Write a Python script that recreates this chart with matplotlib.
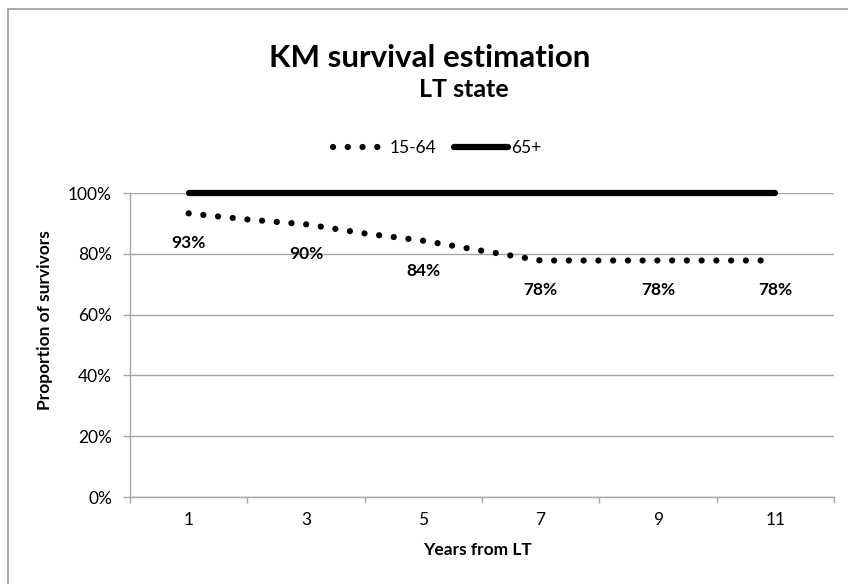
import matplotlib.pyplot as plt
from matplotlib.lines import Line2D
from matplotlib.ticker import FixedLocator, PercentFormatter

plt.rcParams['font.family'] = ['Lato', 'DejaVu Sans']

# Kaplan-Meier survival by age group, years 1..11 after LT
years = [1, 2, 3, 4, 5, 6, 7, 8, 9, 10, 11]
surv_15_64 = [0.933, 0.913, 0.897, 0.867, 0.843, 0.810, 0.778, 0.778, 0.778, 0.778, 0.778]
surv_65_plus = [1.0, 1.0, 1.0, 1.0, 1.0, 1.0, 1.0, 1.0, 1.0, 1.0, 1.0]
labelled_years = [1, 3, 5, 7, 9, 11]
y_ticks = [0.0, 0.2, 0.4, 0.6, 0.8, 1.0]

grey = '#a6a6a6'

fig = plt.figure(figsize=(8.48, 5.84), dpi=100)
ax = fig.add_axes([130 / 848, 87 / 584, 704 / 848, 304 / 584])

# chart area border (left and top edges)
fig.add_artist(Line2D([8 / 848, 8 / 848], [0, 1 - 9 / 584], transform=fig.transFigure,
                      color='#9a9a9a', lw=1.2))
fig.add_artist(Line2D([8 / 848, 1], [1 - 9 / 584, 1 - 9 / 584], transform=fig.transFigure,
                      color='#9a9a9a', lw=1.2))

l1, = ax.plot(years, surv_15_64, color='black', lw=4.5, linestyle=(0, (0.01, 2.35)),
              dash_capstyle='round', label='15-64', clip_on=False)
l2, = ax.plot(years, surv_65_plus, color='black', lw=4.5, solid_capstyle='round',
              label='65+', clip_on=False, zorder=3)

for yr in labelled_years:
    v = surv_15_64[years.index(yr)]
    ax.annotate(f'{v:.0%}', (yr, v), xytext=(0, -30), textcoords='offset pixels',
                ha='center', va='center', fontsize=12.5, fontweight='bold')

ax.set_xlim(0, 12)
ax.set_ylim(0, 1)
ax.xaxis.set_major_locator(FixedLocator([0, 2, 4, 6, 8, 10, 12]))
ax.xaxis.set_minor_locator(FixedLocator(labelled_years))
ax.set_xticklabels([])
ax.set_xticklabels([str(y) for y in labelled_years], minor=True)
ax.tick_params(axis='x', which='major', length=4.5, color=grey, width=1)
ax.tick_params(axis='x', which='minor', length=0, pad=11, labelsize=12.5)
ax.set_yticks(y_ticks)
ax.yaxis.set_major_formatter(PercentFormatter(1.0, decimals=0))
ax.tick_params(axis='y', length=5, color=grey, width=1, pad=8, labelsize=12.5)

ax.grid(axis='y', color=grey, lw=1)
ax.set_axisbelow(True)
for side in ['top', 'right']:
    ax.spines[side].set_visible(False)
for side in ['left', 'bottom']:
    ax.spines[side].set_color(grey)
    ax.spines[side].set_linewidth(1)

ax.set_ylabel('Proportion of survivors', fontsize=12.5, fontweight='bold')
ax.yaxis.set_label_coords(-0.109, 0.582)
ax.set_xlabel('Years from LT', fontsize=12.5, fontweight='bold')
ax.xaxis.set_label_coords(0.493, -0.148)

fig.text(430 / 848, 1 - 67 / 584, 'KM survival estimation', ha='center', va='baseline',
         fontsize=22.5, fontweight='bold')
fig.text(464 / 848, 1 - 97 / 584, 'LT state', ha='center', va='baseline',
         fontsize=18, fontweight='bold')

fig.legend(handles=[l1, l2], loc='center', bbox_to_anchor=(437 / 848, 1 - 148 / 584),
           ncol=2, frameon=False, fontsize=12.5, handlelength=3.1, handletextpad=0.2,
           columnspacing=1.0)

fig.savefig('out.png', dpi=100)
